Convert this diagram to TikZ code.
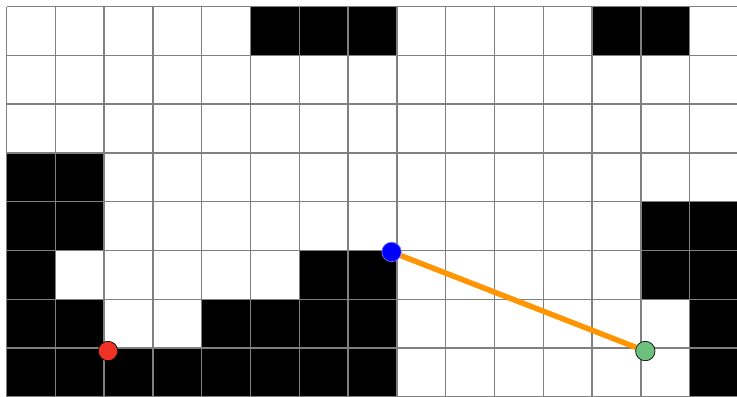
\documentclass[tikz,border=0pt]{standalone}
\usepackage{xcolor}
\usepackage{tikz}
\definecolor{gridgray}{RGB}{128,128,128}
\definecolor{pathorange}{RGB}{255,149,0}
\definecolor{startred}{RGB}{240,50,38}
\definecolor{goalgreen}{RGB}{110,192,125}
\definecolor{agentblue}{RGB}{0,0,255}

\begin{document}
\begin{tikzpicture}[x=0.75pt,y=-0.75pt,
  cellgrid/.style={draw=gridgray,line width=1.1pt},
  wall/.style={fill=black},
  marker/.style={circle,draw=black,line width=0.5pt,minimum size=14.6pt,inner sep=0pt},
  route/.style={draw=pathorange,line width=4.1pt}
]
\useasboundingbox (0,0) rectangle (737,396);
\clip (0,0) rectangle (737,396);
\fill[white] (0,0) rectangle (737,396);
\begin{scope}[shift={(6.5,6.5)},x=36.6pt,y=-36.6pt]
  % occupied cells (column/row, counted from the top left)
  \foreach \c/\r in {5/0,6/0,7/0,12/0,13/0,
                     0/3,1/3,
                     0/4,1/4,13/4,14/4,
                     0/5,6/5,7/5,13/5,14/5,
                     0/6,1/6,4/6,5/6,6/6,7/6,14/6,
                     0/7,1/7,2/7,3/7,4/7,5/7,6/7,7/7,14/7}
    \fill[wall] (\c,\r) rectangle ++(1,1);
  \foreach \i in {0,...,15}
    \draw[cellgrid] (\i,0) -- (\i,8);
  \foreach \j in {0,...,8}
    \draw[cellgrid] (0,\j) -- (15,\j);
  \node[marker,fill=startred] (start) at (2.08,7.06) {};
  \node[marker,fill=agentblue,draw=blue!55!white] (agent) at (7.89,5.03) {};
  \node[marker,fill=goalgreen] (goal) at (13.09,7.06) {};
  \draw[route] (agent)--(goal);
\end{scope}
\end{tikzpicture}
\end{document}
